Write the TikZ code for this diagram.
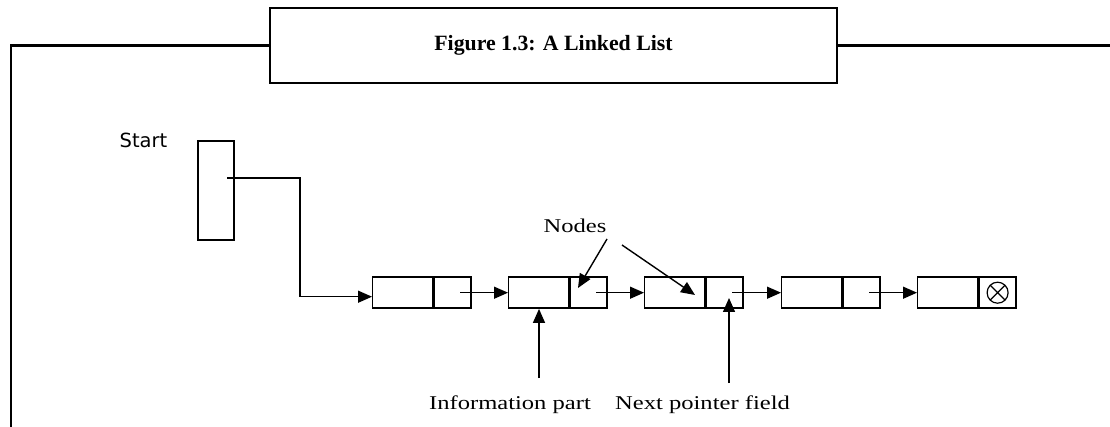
\documentclass[tikz,border=0pt]{standalone}
\usepackage{fontspec}
\usetikzlibrary{arrows.meta,calc}
\newfontfamily\labelfont[FakeStretch=1.26]{Liberation Serif}
\newfontfamily\titlefont{Liberation Serif}
\newfontfamily\startfont{DejaVu Sans}

\begin{document}
\begin{tikzpicture}[x=1pt,y=-1pt,
  frame/.style={line width=2.2pt, line join=miter},
  cell/.style={draw, line width=1.4pt, minimum height=31pt, inner sep=0pt},
  infocell/.style={cell, minimum width=60pt, anchor=north west},
  ptrcell/.style={cell, minimum width=37pt, anchor=west},
  link/.style={line width=1.4pt, -{Triangle[length=14pt,width=12pt]}},
  lbl/.style={font=\labelfont\fontsize{19.5}{22}\selectfont, inner sep=0pt},
]
\useasboundingbox (0,0) rectangle (1110,427);

% title box with the frame running out of it
\node[draw, frame, minimum width=567pt, minimum height=75.5pt, inner sep=0pt,
      font=\titlefont\bfseries\fontsize{21.8}{24}\selectfont]
  (titlebox) at (553.5,45.5) {Figure 1.3: A Linked List};
\coordinate (frameleft) at (11,427);
\coordinate (frameright) at (1110,45.5);
\draw[frame] (frameleft) |- (titlebox.west);
\draw[frame] (titlebox.east) -- (frameright);

% head pointer
\node[font=\startfont\fontsize{19.5}{22}\selectfont, inner sep=0pt] (startlbl) at (143.5,140) {Start};
\node[cell, minimum width=36pt, minimum height=99pt] (head) at (216,190.5) {};
\coordinate (headout) at (227,178);

% the list nodes: information part + next pointer field
\node[infocell] (n1i) at (372,276.5) {};
\node[ptrcell]  (n1p) at (n1i.east) {};
\node[infocell] (n2i) at (508,276.5) {};
\node[ptrcell]  (n2p) at (n2i.east) {};
\node[infocell] (n3i) at (644,276.5) {};
\node[ptrcell]  (n3p) at (n3i.east) {};
\node[infocell] (n4i) at (781,276.5) {};
\node[ptrcell]  (n4p) at (n4i.east) {};
\node[infocell] (n5i) at (917,276.5) {};
\node[ptrcell]  (n5p) at (n5i.east) {};

% null pointer in the last node
\node[circle, draw, line width=1.2pt, minimum size=21pt, inner sep=0pt,
      path picture={\draw[line width=1.2pt]
        (path picture bounding box.north west) -- (path picture bounding box.south east)
        (path picture bounding box.north east) -- (path picture bounding box.south west);}]
  (nil) at (n5p.center) {};

% links
\draw[link] (headout) -| ($(n1i.west)+(-72,4)$) -- ($(n1i.west)+(0,4)$);
\draw[link] ($(n1p.center)+(7.5,0)$) -- (n2i.west);
\draw[link] ($(n2p.center)+(7.5,0)$) -- (n3i.west);
\draw[link] ($(n3p.center)+(7.5,0)$) -- (n4i.west);
\draw[link] ($(n4p.center)+(7.5,0)$) -- (n5i.west);

% annotations
\node[lbl] (nodeslbl) at (575,226) {Nodes};
\coordinate (nodesa) at (607,239);
\coordinate (nodesatip) at (578,288);
\coordinate (nodesb) at (622,245);
\coordinate (nodesbtip) at (695,295);
\draw[link] (nodesa) -- (nodesatip);
\draw[link] (nodesb) -- (nodesbtip);

\node[lbl] (infolbl) at (510,405) {Information part};
\node[lbl] (nextlbl) at (702.5,405) {Next pointer field};
\coordinate (infotail) at (539,378);
\coordinate (nexttail) at (729,383);
\coordinate (nexttip) at (729,298);
\draw[link] (infotail) -- (infotail |- n2i.south);
\draw[link] (nexttail) -- (nexttip);
\end{tikzpicture}
\end{document}
